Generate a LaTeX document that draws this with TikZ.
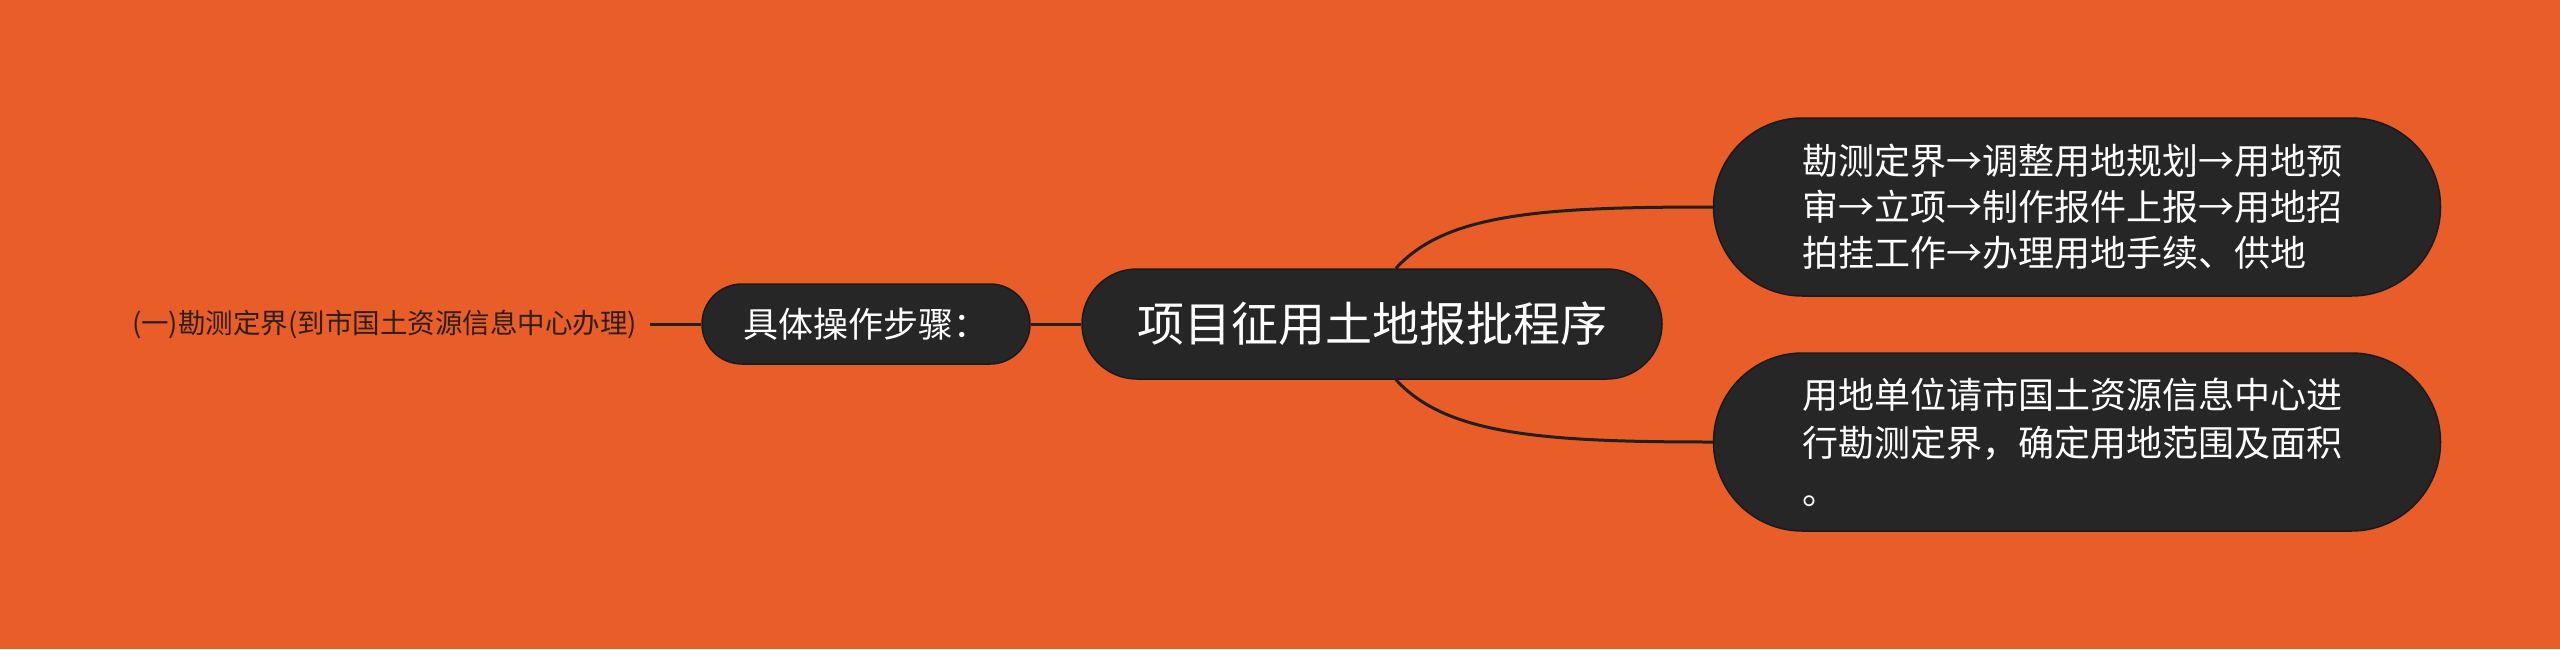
\documentclass[tikz,border=0pt]{standalone}
\usepackage{fontspec}
\setmainfont{Noto Sans CJK SC}
\usetikzlibrary{shapes.misc}
\definecolor{bg}{HTML}{E95D29}
\definecolor{nodefill}{HTML}{262626}
\definecolor{nodeline}{HTML}{1A1A1A}
\definecolor{conncol}{HTML}{231F1C}
\definecolor{leaftext}{HTML}{2E1F17}
\tikzset{
  pill/.style={rounded rectangle, fill=nodefill, draw=nodeline, line width=1.5pt, text=white, inner sep=0pt},
  conn/.style={draw=conncol, line width=3pt},
}
\begin{document}
\begin{tikzpicture}[x=1pt,y=-1pt]
\fill[bg] (0,0) rectangle (2560,649);
\useasboundingbox (0,0) rectangle (2560,649);
\node[pill, minimum width=580pt, minimum height=110pt, font=\fontsize{47}{47}\selectfont] (root) at (1372,324) {项目征用土地报批程序};
\node[pill, minimum width=328pt, minimum height=80pt, font=\fontsize{35}{35}\selectfont] (stepnode) at (866,324) {具体操作步骤：};
\node[anchor=east, inner xsep=13pt, inner ysep=0pt, text=leaftext, font=\fontsize{27.5}{27.5}\selectfont] (leaf) at (650,324) {(一)勘测定界(到市国土资源信息中心办理)};
\node[pill, minimum width=727pt, minimum height=178pt, text width=550pt, align=left, font=\fontsize{36}{46}\selectfont] (t1) at (2077,207) {勘测定界→调整用地规划→用地预\\审→立项→制作报件上报→用地招\\拍挂工作→办理用地手续、供地};
\node[pill, minimum width=727pt, minimum height=178pt, text width=550pt, align=left, font=\fontsize{36}{48}\selectfont] (t2) at (2077,442) {用地单位请市国土资源信息中心进\\行勘测定界，确定用地范围及面积\\。};
\draw[conn] (leaf.east) -- (stepnode.west);
\draw[conn] (stepnode.east) -- (root.west);
\draw[conn] ([xshift=24pt]root.north) .. controls +(50,-55) and +(-170,0) .. (t1.west);
\draw[conn] ([xshift=24pt]root.south) .. controls +(50,55) and +(-170,0) .. (t2.west);
\end{tikzpicture}
\end{document}
